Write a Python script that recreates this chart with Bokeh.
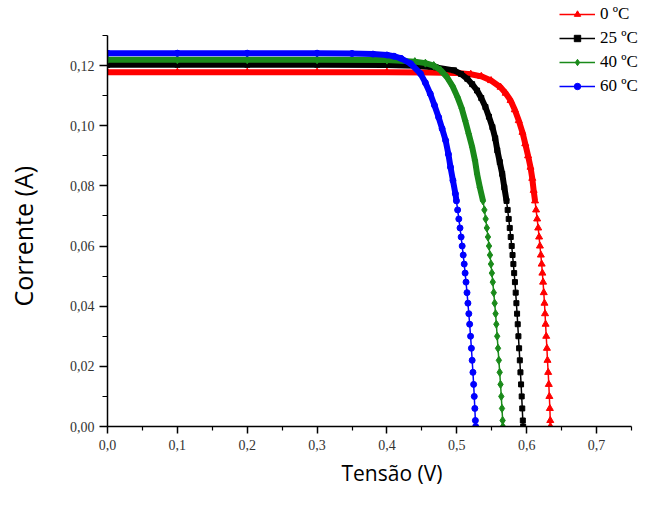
import numpy as np
from bokeh.plotting import figure
from bokeh.models import Range1d, FixedTicker, Legend, LegendItem, CustomJSTickFormatter, Title
from bokeh.embed import file_html
from bokeh.resources import INLINE

# ---- data (Tensão V, Corrente A) ----
v_0c = [0.0, 0.1, 0.2, 0.3, 0.4, 0.46, 0.50, 0.520, 0.535, 0.549, 0.5626, 0.570, 0.577, 0.583,
        0.5887, 0.594, 0.598, 0.602, 0.6055, 0.608, 0.610,
        0.612, 0.6135, 0.615, 0.6165, 0.6178, 0.619, 0.6203, 0.6215, 0.6225, 0.6235, 0.6245,
        0.6255, 0.6263, 0.6271, 0.628, 0.629, 0.6298, 0.6308, 0.6317, 0.6325, 0.6332, 0.6338, 0.634]
i_0c = [0.1178, 0.1178, 0.1178, 0.1178, 0.1178, 0.1177, 0.1175, 0.1171, 0.1164, 0.1150, 0.1128,
        0.1108, 0.1084, 0.1053, 0.1017, 0.0978, 0.094, 0.0900, 0.0862, 0.0825, 0.0785,
        0.075, 0.072, 0.069, 0.066, 0.063, 0.060, 0.057, 0.054, 0.051, 0.048, 0.0445, 0.041,
        0.0375, 0.034, 0.030, 0.026, 0.022, 0.018, 0.014, 0.010, 0.006, 0.002, 0.0]

v_25c = [0.0, 0.1, 0.2, 0.3, 0.4, 0.44, 0.47, 0.496, 0.506, 0.515, 0.522, 0.529, 0.535, 0.541,
         0.546, 0.551, 0.555, 0.558, 0.5615, 0.565, 0.568,
         0.5712, 0.5728, 0.5743, 0.5758, 0.5772, 0.5786, 0.5798, 0.5810, 0.5821, 0.5832, 0.5843,
         0.5853, 0.5863, 0.5872, 0.5882, 0.5892, 0.5902, 0.5911, 0.592, 0.5929, 0.5937, 0.5945, 0.595]
i_25c = [0.1203, 0.1203, 0.1203, 0.1203, 0.1202, 0.1199, 0.1194, 0.1184, 0.1172, 0.1156, 0.1138,
         0.1117, 0.1092, 0.1062, 0.1030, 0.0995, 0.0958, 0.0918, 0.0879, 0.084, 0.0795,
         0.075, 0.072, 0.069, 0.066, 0.063, 0.060, 0.057, 0.054, 0.051, 0.048, 0.0445, 0.041,
         0.0375, 0.034, 0.030, 0.026, 0.022, 0.018, 0.014, 0.010, 0.006, 0.002, 0.0]

v_40c = [0.0, 0.1, 0.2, 0.3, 0.4, 0.44, 0.455, 0.467, 0.477, 0.486, 0.494, 0.501, 0.507, 0.512,
         0.517, 0.522, 0.526, 0.529, 0.533,
         0.5375, 0.5395, 0.5413, 0.5430, 0.5446, 0.5461, 0.5475, 0.5489, 0.5502, 0.5515, 0.5529,
         0.5542, 0.5555, 0.5566, 0.5578, 0.5590, 0.5602, 0.5614, 0.5626, 0.5637, 0.5647, 0.5656, 0.566]
i_40c = [0.1219, 0.1219, 0.1219, 0.1219, 0.1218, 0.1213, 0.1208, 0.1200, 0.1184, 0.1161, 0.1131,
         0.1095, 0.1058, 0.1017, 0.0973, 0.0929, 0.0885, 0.084, 0.0795,
         0.075, 0.072, 0.069, 0.066, 0.063, 0.060, 0.057, 0.054, 0.051, 0.048, 0.0445, 0.041,
         0.0375, 0.034, 0.030, 0.026, 0.022, 0.018, 0.014, 0.010, 0.006, 0.002, 0.0]

v_60c = [0.0, 0.1, 0.2, 0.3, 0.35, 0.38, 0.40, 0.41, 0.42, 0.434, 0.448, 0.455, 0.462, 0.468,
         0.474, 0.479, 0.484, 0.488, 0.491, 0.4945, 0.498,
         0.4995, 0.5012, 0.5029, 0.5046, 0.5062, 0.5077, 0.5092, 0.5106, 0.5119, 0.5132, 0.5146,
         0.5159, 0.5172, 0.5184, 0.5197, 0.5209, 0.522, 0.5231, 0.5241, 0.525, 0.5258, 0.5266, 0.527]
i_60c = [0.1241, 0.1241, 0.1241, 0.1241, 0.1240, 0.1238, 0.1235, 0.1231, 0.1224, 0.1206, 0.1173,
         0.1143, 0.1106, 0.1068, 0.1028, 0.099, 0.0951, 0.0905, 0.0862, 0.0818, 0.0774,
         0.075, 0.072, 0.069, 0.066, 0.063, 0.060, 0.057, 0.054, 0.051, 0.048, 0.0445, 0.041,
         0.0375, 0.034, 0.030, 0.026, 0.022, 0.018, 0.014, 0.010, 0.006, 0.002, 0.0]

series_labels = ["0 ºC", "25 ºC", "40 ºC", "60 ºC"]
x_ticks = [0.0, 0.1, 0.2, 0.3, 0.4, 0.5, 0.6, 0.7]
x_minor = [0.05, 0.15, 0.25, 0.35, 0.45, 0.55, 0.65, 0.75]
y_ticks = [0.0, 0.02, 0.04, 0.06, 0.08, 0.10, 0.12]
y_minor = [0.01, 0.03, 0.05, 0.07, 0.09, 0.11, 0.13]

# frame reaches the top/right canvas edges so the legend is not clipped;
# the axis lines are limited with bounds
p = figure(width=640, height=491, x_range=Range1d(0, 0.76295), y_range=Range1d(0, 0.14162),
           output_backend="svg", toolbar_location=None,
           min_border_left=107, min_border_right=0, min_border_top=0, min_border_bottom=65)
p.grid.visible = False
p.outline_line_color = None

series = [
    (v_0c, i_0c, "#ff0000", "triangle", 7),
    (v_25c, i_25c, "#000000", "square", 5),
    (v_40c, i_40c, "#1a8a1a", "diamond", 8),
    (v_60c, i_60c, "#0000ff", "circle", 6),
]

items = []
for (v, i, col, mk, sz), lab in zip(series, series_labels):
    v = np.array(v)
    i = np.array(i)
    band = i >= 0.075
    p.line(v[band], i[band], line_color=col, line_width=6)
    ln = p.line(v, i, line_color=col, line_width=1.5)
    sc = p.scatter(v, i, marker=mk, size=sz, fill_color=col, line_color=col)
    items.append(LegendItem(label=lab, renderers=[ln, sc]))

for ax in (p.xaxis[0], p.yaxis[0]):
    ax.axis_line_color = "black"
    ax.axis_line_width = 1.5
    ax.major_tick_line_color = "black"
    ax.minor_tick_line_color = "black"
    ax.major_tick_line_width = 1.5
    ax.minor_tick_line_width = 1.2
    ax.major_tick_in = 0
    ax.minor_tick_in = 0
    ax.major_label_text_font = "Liberation Serif"
    ax.major_label_text_font_size = "14px"
    ax.major_label_text_color = "#333333"

p.xaxis.bounds = (0, 0.75)
p.yaxis.bounds = (0, 0.13)
p.xaxis.ticker = FixedTicker(ticks=x_ticks, minor_ticks=x_minor)
p.yaxis.ticker = FixedTicker(ticks=y_ticks, minor_ticks=y_minor)
p.xaxis.formatter = CustomJSTickFormatter(code="return tick.toFixed(1).replace('.', ',');")
p.yaxis.formatter = CustomJSTickFormatter(code="return tick.toFixed(2).replace('.', ',');")
p.xaxis.major_tick_out = 7
p.xaxis.minor_tick_out = 4
p.yaxis.major_tick_out = 8
p.yaxis.minor_tick_out = 5
p.xaxis.major_label_standoff = 6
p.yaxis.major_label_standoff = 5

# y title: axis label, padded with no-break spaces so it sits lower like the reference
p.yaxis.axis_label = "Corrente (A)" + "\u00a0" * 7
p.yaxis.axis_label_text_font = "Open Sans"
p.yaxis.axis_label_text_font_size = "25px"
p.yaxis.axis_label_text_font_style = "normal"
p.yaxis.axis_label_text_color = "black"
p.yaxis.axis_label_standoff = 27

# x title: Title below, offset horizontally like the reference
xtitle = Title(text="Tensão (V)", align="left", offset=234, standoff=8,
               text_font="Open Sans", text_font_size="21px", text_font_style="normal",
               text_color="black")
p.add_layout(xtitle, "below")

legend = Legend(items=items, location=(452, 330), border_line_color=None,
                background_fill_alpha=0, padding=0, margin=0, spacing=4,
                glyph_height=16, label_height=16, glyph_width=36, label_standoff=5,
                label_text_font="Liberation Serif", label_text_font_size="17px",
                label_text_color="black")
p.add_layout(legend)

open("out.html", "w").write(file_html(p, INLINE))
